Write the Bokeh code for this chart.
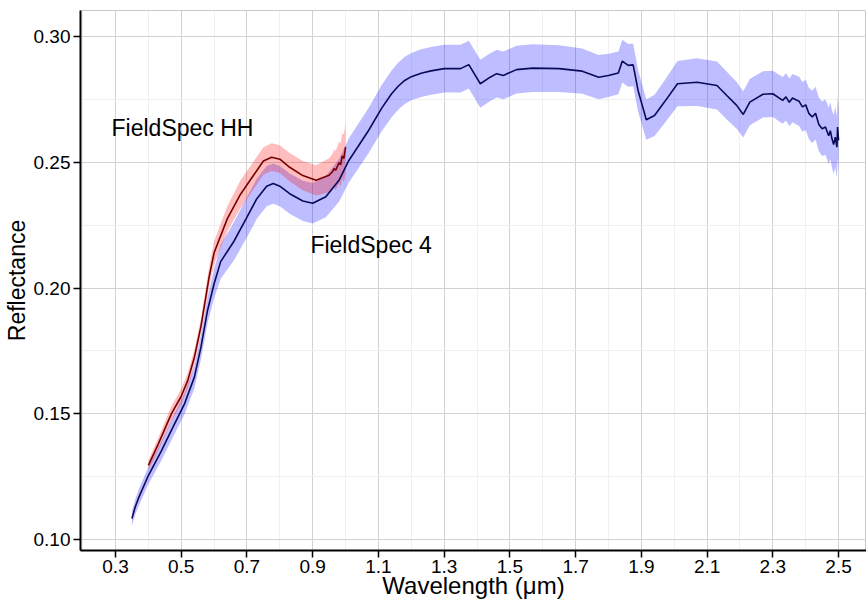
from bokeh.plotting import figure
from bokeh.models import ColumnDataSource, FixedTicker, PrintfTickFormatter, Label
from bokeh.embed import file_html
from bokeh.resources import INLINE

# FieldSpec 4 (blue) mean reflectance and band half-width
wl_fs4 = [0.35, 0.36, 0.37, 0.40, 0.44, 0.48, 0.51, 0.54, 0.56, 0.58, 0.60, 0.62, 0.66,
          0.70, 0.73, 0.76, 0.78, 0.80, 0.83, 0.87, 0.90, 0.94, 0.98, 1.01, 1.07, 1.11,
          1.14, 1.16, 1.18, 1.20, 1.23, 1.26, 1.30, 1.35, 1.375, 1.41, 1.44, 1.46, 1.48,
          1.52, 1.57, 1.65, 1.72, 1.77, 1.80, 1.83, 1.842, 1.86, 1.875, 1.89, 1.915, 1.94,
          1.97, 2.01, 2.07, 2.13, 2.16, 2.19, 2.21, 2.23, 2.27, 2.30, 2.33, 2.34, 2.35,
          2.36, 2.37, 2.38, 2.39, 2.40, 2.41, 2.42, 2.43, 2.44, 2.45, 2.46, 2.47, 2.475,
          2.48, 2.485, 2.49, 2.495, 2.497, 2.50]
refl_fs4 = [0.1084, 0.1130, 0.1165, 0.1255, 0.1354, 0.1461, 0.1540, 0.1646, 0.1765, 0.1911,
            0.2017, 0.2105, 0.2185, 0.2282, 0.2355, 0.2405, 0.2415, 0.2405, 0.2375, 0.2346,
            0.2337, 0.2363, 0.2428, 0.2507, 0.2626, 0.2715, 0.2772, 0.2802, 0.2825, 0.2840,
            0.2854, 0.2863, 0.2872, 0.2872, 0.2888, 0.2812, 0.2838, 0.2852, 0.2845, 0.2868,
            0.2874, 0.2872, 0.2862, 0.2838, 0.2845, 0.2855, 0.2902, 0.2885, 0.2887, 0.2785,
            0.2669, 0.2686, 0.2739, 0.2812, 0.2818, 0.2805, 0.2765, 0.2726, 0.2690, 0.2739,
            0.2770, 0.2772, 0.2746, 0.2760, 0.2738, 0.2755, 0.2748, 0.2742, 0.2720, 0.2728,
            0.2693, 0.2680, 0.2695, 0.2650, 0.2633, 0.2640, 0.2605, 0.2625, 0.2593, 0.2570,
            0.2600, 0.2560, 0.2640, 0.2587]
sd_fs4 = [0.0030, 0.0030, 0.0032, 0.0035, 0.0038, 0.0040, 0.0042, 0.0045, 0.0048, 0.0052,
          0.0058, 0.0068, 0.0076, 0.0080, 0.0080, 0.0080, 0.0080, 0.0080, 0.0080, 0.0080,
          0.0080, 0.0082, 0.0085, 0.0088, 0.0090, 0.0092, 0.0093, 0.0093, 0.0094, 0.0094,
          0.0095, 0.0095, 0.0095, 0.0095, 0.0095, 0.0095, 0.0095, 0.0095, 0.0095, 0.0095,
          0.0095, 0.0093, 0.0090, 0.0088, 0.0086, 0.0085, 0.0085, 0.0085, 0.0085, 0.0083,
          0.0080, 0.0082, 0.0085, 0.0090, 0.0095, 0.0095, 0.0095, 0.0093, 0.0092, 0.0092,
          0.0092, 0.0092, 0.0093, 0.0094, 0.0095, 0.0096, 0.0097, 0.0098, 0.0099, 0.0100,
          0.0102, 0.0104, 0.0105, 0.0106, 0.0108, 0.0110, 0.0112, 0.0113, 0.0115, 0.0117,
          0.0120, 0.0122, 0.0124, 0.0125]

# FieldSpec HH (red) mean reflectance and band half-width
wl_hh = [0.40, 0.43, 0.47, 0.50, 0.52, 0.54, 0.56, 0.585, 0.60, 0.64, 0.68, 0.72, 0.75,
         0.775, 0.80, 0.83, 0.87, 0.91, 0.95, 0.96, 0.965, 0.97, 0.98, 0.985, 0.99, 0.995,
         1.00]
refl_hh = [0.1295, 0.1380, 0.1500, 0.1570, 0.1633, 0.1725, 0.1848, 0.2045, 0.2140, 0.2275,
           0.2372, 0.2448, 0.2505, 0.2520, 0.2512, 0.2480, 0.2447, 0.2428, 0.2448, 0.2462,
           0.2475, 0.2468, 0.2498, 0.2490, 0.2525, 0.2515, 0.2560]
sd_hh = [0.0020, 0.0025, 0.0030, 0.0030, 0.0030, 0.0030, 0.0030, 0.0040, 0.0045, 0.0050,
         0.0055, 0.0055, 0.0055, 0.0055, 0.0055, 0.0057, 0.0058, 0.0060, 0.0068, 0.0072,
         0.0075, 0.0078, 0.0083, 0.0086, 0.0090, 0.0095, 0.0100]

x_ticks = [0.3, 0.5, 0.7, 0.9, 1.1, 1.3, 1.5, 1.7, 1.9, 2.1, 2.3, 2.5]
x_minor = [0.2, 0.4, 0.6, 0.8, 1.0, 1.2, 1.4, 1.6, 1.8, 2.0, 2.2, 2.4, 2.6]
y_ticks = [0.10, 0.15, 0.20, 0.25, 0.30]
y_minor = [0.125, 0.175, 0.225, 0.275]

FONT = "Liberation Sans"

src4 = ColumnDataSource(dict(
    x=wl_fs4, y=refl_fs4,
    lo=[m - s for m, s in zip(refl_fs4, sd_fs4)],
    hi=[m + s for m, s in zip(refl_fs4, sd_fs4)]))
srch = ColumnDataSource(dict(
    x=wl_hh, y=refl_hh,
    lo=[m - s for m, s in zip(refl_hh, sd_hh)],
    hi=[m + s for m, s in zip(refl_hh, sd_hh)]))

p = figure(width=866, height=601, x_range=(0.1935, 2.585), y_range=(0.0957, 0.3103),
           output_backend="svg", toolbar_location=None,
           min_border_left=79, min_border_right=0, min_border_top=10, min_border_bottom=51)
p.background_fill_color = "white"
p.border_fill_color = "white"
p.outline_line_color = "#c8c8c8"
p.outline_line_width = 1

p.xaxis.ticker = FixedTicker(ticks=x_ticks, minor_ticks=x_minor)
p.yaxis.ticker = FixedTicker(ticks=y_ticks, minor_ticks=y_minor)
p.xaxis.formatter = PrintfTickFormatter(format="%.1f")
p.yaxis.formatter = PrintfTickFormatter(format="%.2f")

for ax in (p.xaxis, p.yaxis):
    ax.axis_line_color = "black"
    ax.axis_line_width = 2
    ax.major_tick_line_color = "black"
    ax.major_tick_line_width = 1.5
    ax.major_tick_out = 7
    ax.major_tick_in = 0
    ax.minor_tick_line_color = None
    ax.major_label_text_font = FONT
    ax.major_label_text_font_size = "19px"
    ax.major_label_text_color = "black"
    ax.axis_label_text_font = FONT
    ax.axis_label_text_font_style = "normal"
    ax.axis_label_text_color = "black"

p.yaxis.major_label_standoff = 3
p.yaxis.axis_label_standoff = 1
p.xaxis.major_label_standoff = 2
p.xaxis.axis_label_standoff = -4

p.xaxis.axis_label = "Wavelength (μm)"
p.yaxis.axis_label = "Reflectance"
p.xaxis.axis_label_text_font_size = "24px"
p.yaxis.axis_label_text_font_size = "23px"

p.xgrid.grid_line_color = "#d2d2d2"
p.ygrid.grid_line_color = "#d2d2d2"
p.xgrid.minor_grid_line_color = "#f0f0f0"
p.ygrid.minor_grid_line_color = "#f0f0f0"
p.xgrid.grid_line_width = 1
p.ygrid.grid_line_width = 1

p.varea(x="x", y1="lo", y2="hi", source=src4, fill_color="#0000ff", fill_alpha=0.26)
p.varea(x="x", y1="lo", y2="hi", source=srch, fill_color="#ff0000", fill_alpha=0.26)
p.line(x="x", y="y", source=src4, line_color="#0a0a5a", line_width=1.6)
p.line(x="x", y="y", source=srch, line_color="#7a0000", line_width=1.6)

p.add_layout(Label(x=0.288, y=0.2638, text="FieldSpec HH", text_font=FONT,
                   text_font_size="23px", text_baseline="middle", text_align="left",
                   text_color="black"))
p.add_layout(Label(x=0.893, y=0.2173, text="FieldSpec 4", text_font=FONT,
                   text_font_size="23px", text_baseline="middle", text_align="left",
                   text_color="black"))

open("out.html", "w").write(file_html(p, INLINE))
